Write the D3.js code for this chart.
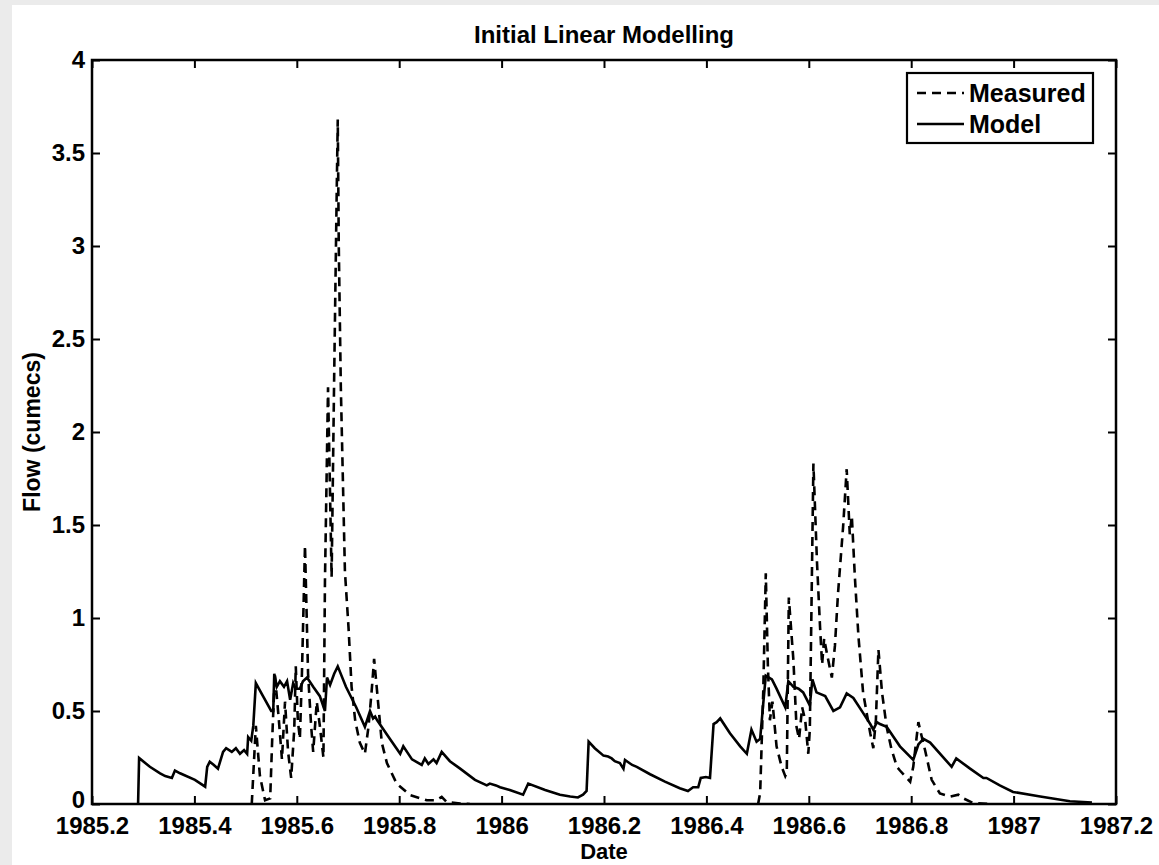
<!DOCTYPE html>
<html>
<head>
<meta charset="utf-8">
<script src="https://cdn.jsdelivr.net/npm/d3@7"></script>
<style>
  html, body { margin: 0; padding: 0; background: #ebebeb; }
  svg { display: block; }
  text { font-family: "Liberation Sans", Arial, Helvetica, sans-serif; font-weight: bold; fill: #000; }
</style>
</head>
<body>
<svg id="chart" width="1159" height="865"></svg>
<script>
// Simulated flow from the linear model (decimal year, cumecs)
const modelDate = [
  1985.290, 1985.292, 1985.313, 1985.333, 1985.343, 1985.356, 1985.362, 1985.372, 1985.401, 1985.421,
  1985.425, 1985.430, 1985.438, 1985.446, 1985.456, 1985.462, 1985.473, 1985.481, 1985.489, 1985.497,
  1985.503, 1985.505, 1985.511, 1985.515, 1985.520, 1985.534, 1985.550, 1985.554, 1985.556, 1985.561,
  1985.567, 1985.575, 1985.581, 1985.587, 1985.593, 1985.598, 1985.606, 1985.612, 1985.620, 1985.632,
  1985.645, 1985.655, 1985.659, 1985.665, 1985.673, 1985.680, 1985.696, 1985.716, 1985.733, 1985.743,
  1985.749, 1985.753, 1985.757, 1985.782, 1985.802, 1985.808, 1985.825, 1985.844, 1985.850, 1985.857,
  1985.867, 1985.873, 1985.883, 1985.899, 1985.919, 1985.948, 1985.971, 1985.977, 1985.989, 1985.997,
  1986.016, 1986.042, 1986.052, 1986.085, 1986.114, 1986.134, 1986.149, 1986.159, 1986.166, 1986.170,
  1986.182, 1986.199, 1986.208, 1986.215, 1986.221, 1986.231, 1986.238, 1986.241, 1986.255, 1986.264,
  1986.290, 1986.319, 1986.348, 1986.364, 1986.374, 1986.384, 1986.389, 1986.399, 1986.407, 1986.414,
  1986.420, 1986.427, 1986.446, 1986.466, 1986.479, 1986.488, 1986.498, 1986.505, 1986.511, 1986.516,
  1986.528, 1986.537, 1986.554, 1986.560, 1986.570, 1986.580, 1986.589, 1986.602, 1986.607, 1986.615,
  1986.632, 1986.648, 1986.661, 1986.674, 1986.687, 1986.706, 1986.720, 1986.726, 1986.733, 1986.739,
  1986.752, 1986.778, 1986.804, 1986.814, 1986.824, 1986.837, 1986.879, 1986.888, 1986.915, 1986.941,
  1986.947, 1986.973, 1986.999, 1987.052, 1987.110, 1987.153
];
const modelFlow = [
  0.000, 0.247, 0.200, 0.165, 0.150, 0.140, 0.180, 0.165, 0.130, 0.093,
  0.200, 0.227, 0.210, 0.190, 0.280, 0.300, 0.280, 0.300, 0.270, 0.290,
  0.270, 0.360, 0.340, 0.420, 0.650, 0.580, 0.500, 0.500, 0.700, 0.630,
  0.660, 0.630, 0.660, 0.560, 0.650, 0.620, 0.620, 0.660, 0.680, 0.630,
  0.580, 0.500, 0.680, 0.640, 0.700, 0.740, 0.630, 0.520, 0.415, 0.500,
  0.460, 0.470, 0.450, 0.350, 0.270, 0.310, 0.240, 0.210, 0.245, 0.215,
  0.240, 0.220, 0.280, 0.230, 0.190, 0.130, 0.100, 0.110, 0.100, 0.090,
  0.075, 0.050, 0.110, 0.075, 0.050, 0.040, 0.035, 0.050, 0.070, 0.335,
  0.300, 0.260, 0.255, 0.245, 0.230, 0.220, 0.190, 0.237, 0.210, 0.200,
  0.160, 0.120, 0.085, 0.070, 0.090, 0.090, 0.140, 0.145, 0.140, 0.430,
  0.440, 0.460, 0.380, 0.310, 0.270, 0.400, 0.335, 0.350, 0.540, 0.690,
  0.670, 0.620, 0.520, 0.660, 0.630, 0.620, 0.600, 0.530, 0.670, 0.600,
  0.580, 0.500, 0.520, 0.595, 0.570, 0.490, 0.430, 0.400, 0.440, 0.430,
  0.415, 0.310, 0.237, 0.320, 0.350, 0.330, 0.200, 0.245, 0.190, 0.140,
  0.140, 0.100, 0.065, 0.040, 0.015, 0.008
];

// Gauged flow (decimal year, cumecs); null marks the dry spell between the two wet seasons
const measuredDate = [
  1985.512, 1985.520, 1985.528, 1985.538, 1985.548, 1985.552, 1985.557, 1985.565, 1985.571, 1985.577,
  1985.583, 1985.589, 1985.595, 1985.598, 1985.602, 1985.606, 1985.610, 1985.616, 1985.622, 1985.628,
  1985.632, 1985.639, 1985.645, 1985.652, 1985.655, 1985.661, 1985.668, 1985.673, 1985.678, 1985.680,
  1985.682, 1985.686, 1985.694, 1985.701, 1985.707, 1985.714, 1985.723, 1985.733, 1985.740, 1985.746,
  1985.751, 1985.759, 1985.766, 1985.776, 1985.795, 1985.821, 1985.854, 1985.872, 1985.883, 1985.893,
  1985.919, 1985.938,
  1986.200,
  1986.501, 1986.505, 1986.511, 1986.516, 1986.520, 1986.524, 1986.529, 1986.537, 1986.547, 1986.554,
  1986.557, 1986.561, 1986.570, 1986.576, 1986.581, 1986.587, 1986.593, 1986.599, 1986.602, 1986.609,
  1986.616, 1986.622, 1986.626, 1986.630, 1986.636, 1986.645, 1986.651, 1986.657, 1986.667, 1986.674,
  1986.680, 1986.684, 1986.690, 1986.697, 1986.706, 1986.720, 1986.726, 1986.731, 1986.736, 1986.743,
  1986.752, 1986.761, 1986.772, 1986.778, 1986.798, 1986.804, 1986.814, 1986.819, 1986.827, 1986.840,
  1986.856, 1986.876, 1986.892, 1986.902, 1986.921, 1986.954
];
const measuredFlow = [
  0.000, 0.420, 0.150, 0.020, 0.030, 0.350, 0.700, 0.450, 0.240, 0.550,
  0.280, 0.140, 0.400, 0.740, 0.450, 0.350, 0.700, 1.390, 0.700, 0.420,
  0.280, 0.550, 0.420, 0.250, 1.200, 2.240, 1.220, 2.300, 3.300, 3.680,
  3.000, 2.240, 1.250, 0.950, 0.630, 0.450, 0.330, 0.270, 0.415, 0.600,
  0.780, 0.540, 0.330, 0.220, 0.110, 0.048, 0.020, 0.020, 0.038, 0.010,
  0.003, 0.000,
  null,
  0.000, 0.060, 0.600, 1.240, 0.750, 0.450, 0.550, 0.310, 0.200, 0.150,
  0.170, 1.110, 0.770, 0.415, 0.350, 0.520, 0.450, 0.270, 0.400, 1.830,
  1.300, 0.950, 0.750, 0.890, 0.800, 0.680, 0.850, 1.130, 1.490, 1.800,
  1.450, 1.550, 1.220, 0.900, 0.600, 0.380, 0.300, 0.450, 0.830, 0.600,
  0.415, 0.300, 0.200, 0.180, 0.120, 0.200, 0.440, 0.380, 0.290, 0.130,
  0.057, 0.040, 0.050, 0.030, 0.005, 0.000
];

// Axis ticks
const xTicks = [1985.2, 1985.4, 1985.6, 1985.8, 1986, 1986.2, 1986.4, 1986.6, 1986.8, 1987, 1987.2];
const xTickLabels = ["1985.2", "1985.4", "1985.6", "1985.8", "1986", "1986.2", "1986.4", "1986.6", "1986.8", "1987", "1987.2"];
const yTicks = [0, 0.5, 1, 1.5, 2, 2.5, 3, 3.5, 4];
const yTickLabels = ["0", "0.5", "1", "1.5", "2", "2.5", "3", "3.5", "4"];

const seriesNames = ["Measured", "Model"];

const svg = d3.select("#chart");
const W = 1159, H = 865;
const plot = { left: 92, top: 60, right: 1116, bottom: 804 };

// white figure panel
svg.append("rect").attr("x", 12).attr("y", 5).attr("width", W - 12).attr("height", H - 5).attr("fill", "#fff");

const x = d3.scaleLinear().domain([1985.2, 1987.2]).range([plot.left, plot.right]);
const y = d3.scaleLinear().domain([0, 4]).range([plot.bottom, plot.top]);

svg.append("clipPath").attr("id", "plotclip").append("rect")
  .attr("x", plot.left).attr("y", plot.top)
  .attr("width", plot.right - plot.left).attr("height", plot.bottom - plot.top);

const line = d3.line().defined(d => d[1] !== null).x(d => x(d[0])).y(d => y(d[1]));
const measured = measuredDate.map((d, i) => [d, measuredFlow[i]]);
const model = modelDate.map((d, i) => [d, modelFlow[i]]);

const dash = "9,6";
const g = svg.append("g").attr("clip-path", "url(#plotclip)");
g.append("path").datum(measured).attr("d", line)
  .attr("fill", "none").attr("stroke", "#000").attr("stroke-width", 2.6)
  .attr("stroke-dasharray", dash);
g.append("path").datum(model).attr("d", line)
  .attr("fill", "none").attr("stroke", "#000").attr("stroke-width", 2.6);

// axes with inward ticks on all four sides
const fontSize = 24;
const xAxis = d3.axisBottom(x).tickValues(xTicks).tickSizeInner(-8).tickSizeOuter(0).tickPadding(13)
  .tickFormat((d, i) => xTickLabels[i]);
const yAxis = d3.axisLeft(y).tickValues(yTicks).tickSizeInner(-8).tickSizeOuter(0).tickPadding(7)
  .tickFormat((d, i) => yTickLabels[i]);
const xTop = d3.axisTop(x).tickValues(xTicks).tickSizeInner(-8).tickSizeOuter(0).tickFormat("");
const yRight = d3.axisRight(y).tickValues(yTicks).tickSizeInner(-8).tickSizeOuter(0).tickFormat("");

function styleAxis(sel) {
  sel.select("path.domain").remove();
  sel.selectAll(".tick line").attr("stroke", "#000").attr("stroke-width", 2);
  sel.selectAll(".tick text").attr("font-size", fontSize)
    .attr("font-family", "'Liberation Sans', Arial, Helvetica, sans-serif").attr("font-weight", "bold").attr("fill", "#000");
}

svg.append("g").attr("transform", `translate(0,${plot.bottom})`).call(xAxis).call(styleAxis);
svg.append("g").attr("transform", `translate(${plot.left},0)`).call(yAxis).call(styleAxis)
  .selectAll(".tick text").attr("dy", d => d === 0 ? "0.13em" : "0.32em");
svg.append("g").attr("transform", `translate(0,${plot.top})`).call(xTop).call(styleAxis);
svg.append("g").attr("transform", `translate(${plot.right},0)`).call(yRight).call(styleAxis);

// axes box
svg.append("rect").attr("x", plot.left).attr("y", plot.top)
  .attr("width", plot.right - plot.left).attr("height", plot.bottom - plot.top)
  .attr("fill", "none").attr("stroke", "#000").attr("stroke-width", 2.5);

// title and axis labels
svg.append("text").attr("x", (plot.left + plot.right) / 2).attr("y", 43)
  .attr("text-anchor", "middle").attr("font-size", 24).text("Initial Linear Modelling");
svg.append("text").attr("x", (plot.left + plot.right) / 2).attr("y", 859)
  .attr("text-anchor", "middle").attr("font-size", 22).text("Date");
svg.append("text").attr("transform", `translate(40,${(plot.top + plot.bottom) / 2}) rotate(-90)`)
  .attr("text-anchor", "middle").attr("font-size", 23).text("Flow (cumecs)");

// legend
const lg = svg.append("g");
lg.append("rect").attr("x", 907).attr("y", 73).attr("width", 186).attr("height", 70)
  .attr("fill", "#fff").attr("stroke", "#000").attr("stroke-width", 2.2);
const legendRows = [
  { name: seriesNames[0], dash: dash, cy: 93 },
  { name: seriesNames[1], dash: null, cy: 124 }
];
legendRows.forEach(r => {
  lg.append("line").attr("x1", 917).attr("x2", 964).attr("y1", r.cy).attr("y2", r.cy)
    .attr("stroke", "#000").attr("stroke-width", 2.6)
    .attr("stroke-dasharray", r.dash);
  lg.append("text").attr("x", 969).attr("y", r.cy).attr("dy", "0.36em")
    .attr("font-size", 25).text(r.name);
});
</script>
</body>
</html>
